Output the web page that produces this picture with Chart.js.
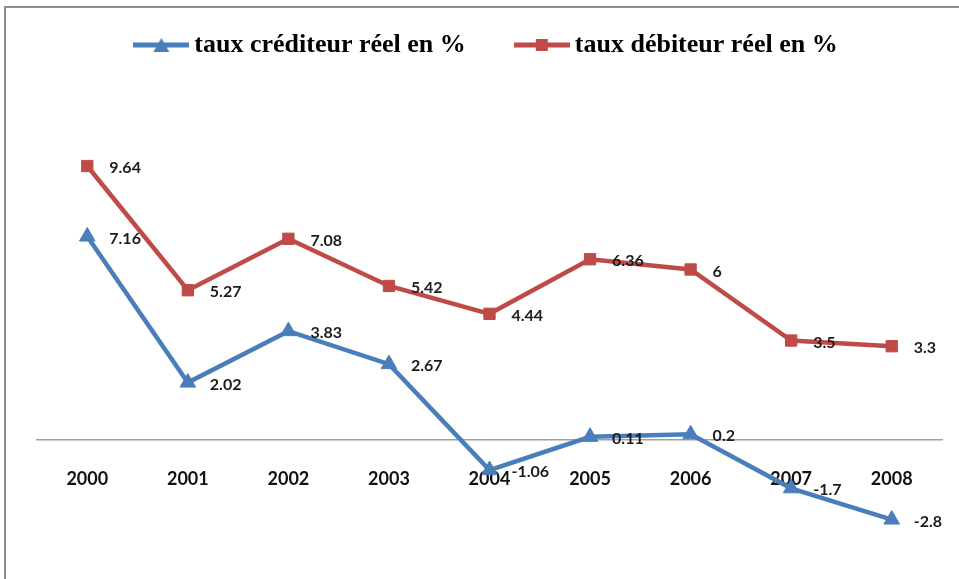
<!DOCTYPE html>
<html lang="fr">
<head>
<meta charset="utf-8">
<title>Taux réels</title>
<script src="https://cdn.jsdelivr.net/npm/chart.js@4.4.1/dist/chart.umd.min.js"></script>
<style>
  html, body { margin: 0; padding: 0; background: #fff; }
  .wrap { position: relative; width: 959px; height: 579px; overflow: hidden; }
  .wrap canvas { position: absolute; left: 0; top: 0; }
  .cadre {
    position: absolute; left: 4px; top: 6px; right: 0; bottom: 0;
    border-top: 2px solid #8e8e8e; border-left: 2px solid #8e8e8e;
    pointer-events: none;
  }
</style>
</head>
<body>
<div class="wrap">
  <canvas id="myChart" width="959" height="579"></canvas>
  <div class="cadre"></div>
</div>
<script>
const annees = ['2000', '2001', '2002', '2003', '2004', '2005', '2006', '2007', '2008']
const tauxCrediteur = [7.16, 2.02, 3.83, 2.67, -1.06, 0.11, 0.2, -1.7, -2.8]
const tauxDebiteur = [9.64, 5.27, 7.08, 5.42, 4.44, 6.36, 6, 3.5, 3.3]

const BLEU = '#4a7ebb'
const ROUGE = '#be4b48'

// icone de legende : long trait avec le marqueur au milieu
function iconeLegende(couleur, forme) {
  const c = document.createElement('canvas')
  c.width = 56
  c.height = 18
  const ctx = c.getContext('2d')
  ctx.strokeStyle = couleur
  ctx.lineWidth = 5
  ctx.beginPath()
  ctx.moveTo(0, 9)
  ctx.lineTo(56, 9)
  ctx.stroke()
  ctx.fillStyle = couleur
  if (forme === 'triangle') {
    ctx.beginPath()
    ctx.moveTo(28, 2)
    ctx.lineTo(36, 16)
    ctx.lineTo(20, 16)
    ctx.closePath()
    ctx.fill()
  } else {
    ctx.fillRect(22, 3, 12, 12)
  }
  return c
}

const icones = [iconeLegende(BLEU, 'triangle'), iconeLegende(ROUGE, 'rect')]

// valeurs ecrites a droite de chaque point
const etiquettesValeurs = {
  id: 'etiquettesValeurs',
  afterDatasetsDraw(chart) {
    const ctx = chart.ctx
    ctx.save()
    ctx.font = 'bold 16px Lato'
    ctx.fillStyle = '#1c1c1c'
    ctx.textAlign = 'left'
    ctx.textBaseline = 'middle'
    chart.data.datasets.forEach((ds, i) => {
      chart.getDatasetMeta(i).data.forEach((pt, j) => {
        ctx.fillText(String(ds.data[j]), pt.x + 22, pt.y + 2)
      })
    })
    ctx.restore()
  },
}

const data = {
  labels: annees,
  datasets: [
    {
      label: 'taux créditeur réel en %',
      data: tauxCrediteur,
      borderColor: BLEU,
      backgroundColor: BLEU,
      borderWidth: 4.5,
      pointStyle: 'triangle',
      pointRadius: 9,
      pointBorderWidth: 1,
      tension: 0,
    },
    {
      label: 'taux débiteur réel en %',
      data: tauxDebiteur,
      borderColor: ROUGE,
      backgroundColor: ROUGE,
      borderWidth: 4.5,
      pointStyle: 'rect',
      pointRadius: 8,
      pointBorderWidth: 1,
      tension: 0,
    },
  ],
}

const config = {
  type: 'line',
  data: data,
  plugins: [etiquettesValeurs],
  options: {
    responsive: false,
    animation: false,
    layout: {
      padding: { left: 37, right: 17, top: -24, bottom: 0 },
    },
    plugins: {
      tooltip: { enabled: false },
      legend: {
        position: 'top',
        align: 'center',
        labels: {
          usePointStyle: true,
          pointStyleWidth: 40,
          padding: 56,
          color: '#000',
          font: { family: 'Liberation Serif', weight: 'bold', size: 26 },
          generateLabels: (chart) =>
            chart.data.datasets.map((ds, i) => ({
              text: ds.label,
              pointStyle: icones[i],
              fillStyle: ds.borderColor,
              strokeStyle: ds.borderColor,
              lineWidth: 0,
              hidden: false,
              datasetIndex: i,
            })),
        },
      },
    },
    scales: {
      x: {
        position: { y: 0 }, // axe des categories a la hauteur de zero
        offset: true,
        grid: { display: true, drawOnChartArea: false, drawTicks: false },
        border: { display: true, color: '#a0a0a0', width: 1.5 },
        ticks: {
          padding: 28,
          color: '#111',
          font: { family: 'Lato', weight: 'bold', size: 18 },
        },
      },
      y: {
        display: false,
        min: -4.54,
        max: 13.09,
      },
    },
  },
}

var myChart = new Chart(document.getElementById('myChart'), config)
</script>
</body>
</html>
